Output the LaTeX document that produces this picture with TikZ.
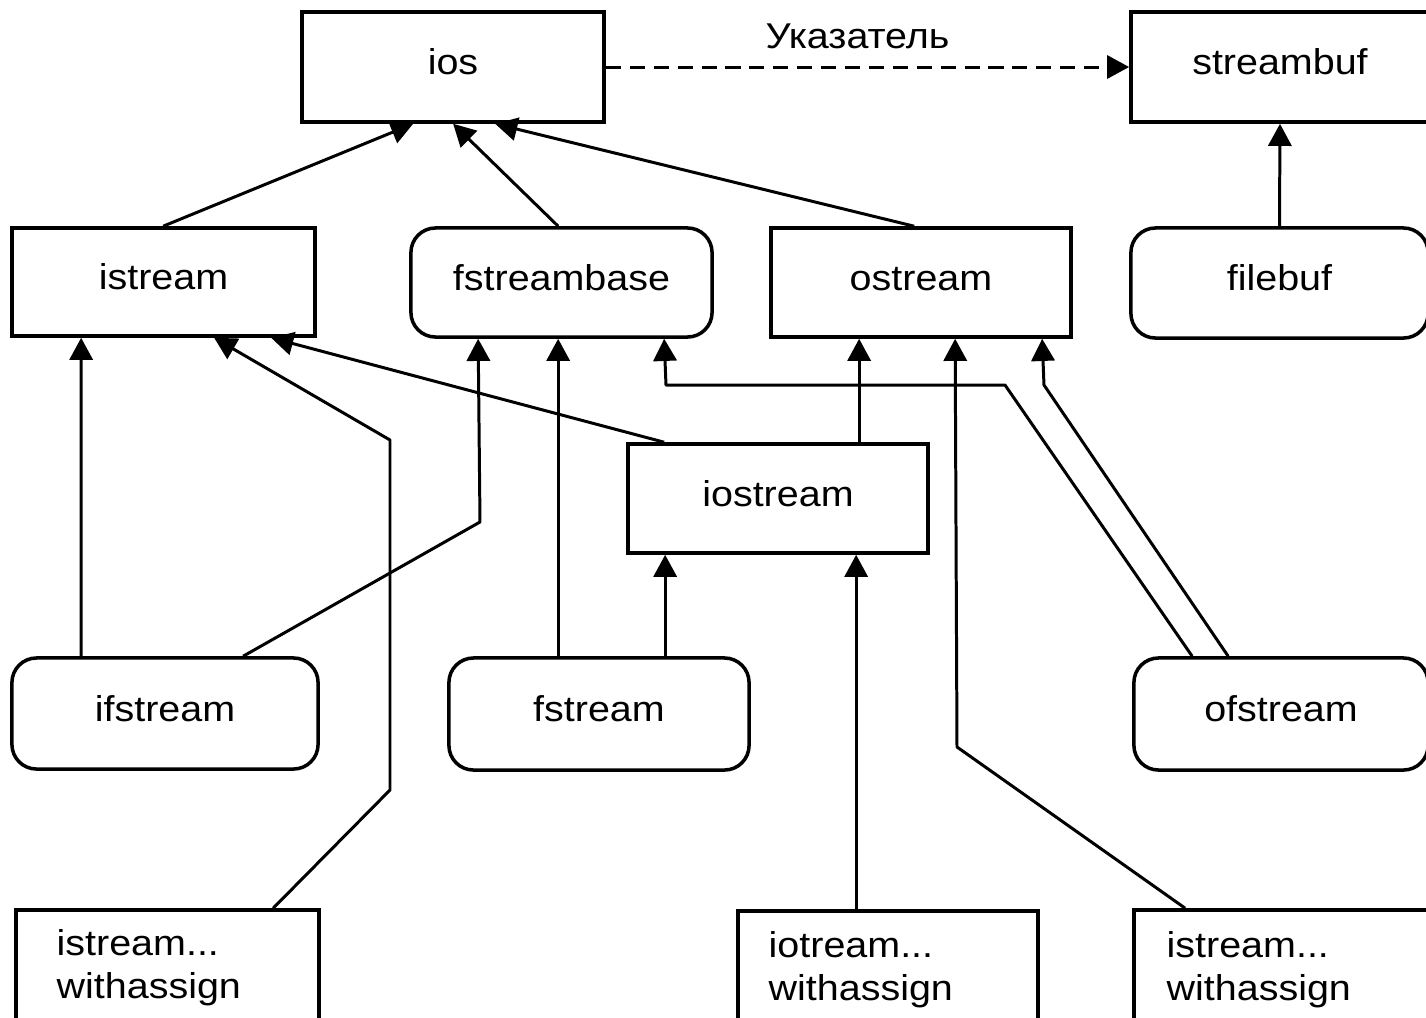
\documentclass[tikz,border=0pt]{standalone}
\usepackage{fontspec}
\setmainfont{Liberation Sans}
\newfontfamily\boxfont{Liberation Sans}[FakeStretch=1.1]
\usetikzlibrary{arrows.meta,calc}
\begin{document}
\begin{tikzpicture}[x=0.01cm,y=-0.01cm,
  box/.style={draw, line width=1pt, inner sep=0pt,
    font=\boxfont\fontsize{10.2}{12.5}\selectfont,
    text height=7.3pt, text depth=3pt},
  rbox/.style={box, rounded corners=7pt},
  watext/.style={inner sep=0pt, font=\boxfont\fontsize{10.2}{12.4}\selectfont},
  arr/.style={line width=0.85pt, line join=round, -{Triangle[length=6.3pt,width=6.6pt]}},
  ptr/.style={arr, dash pattern=on 4.3pt off 2.5pt},
  lbl/.style={inner sep=0pt, font=\boxfont\fontsize{10.2}{12.5}\selectfont}]
\fill[white] (0,0) rectangle (1426,1017);
\useasboundingbox (0,0) rectangle (1426,1017);
\clip (0,0) rectangle (1426,1017);

% boxes
\node[box,  minimum width=3.02cm, minimum height=1.10cm] (ios)         at (453,67)     {ios};
\node[box,  minimum width=2.98cm, minimum height=1.10cm] (streambuf)   at (1280,67)    {streambuf};
\node[box,  minimum width=3.03cm, minimum height=1.08cm] (istream)     at (163.5,282)  {istream};
\node[rbox, minimum width=3.01cm, minimum height=1.09cm] (fstreambase) at (561.5,282.5){fstreambase};
\node[box,  minimum width=3.00cm, minimum height=1.09cm] (ostream)     at (921,282.5)  {ostream};
\node[rbox, minimum width=2.97cm, minimum height=1.10cm] (filebuf)     at (1279.5,283) {filebuf};
\node[box,  minimum width=3.00cm, minimum height=1.09cm] (iostream)    at (778,498.5)  {iostream};
\node[rbox, minimum width=3.06cm, minimum height=1.11cm] (ifstream)    at (165,713.5)  {ifstream};
\node[rbox, minimum width=3.00cm, minimum height=1.12cm] (fstream)     at (599,714)    {fstream};
\node[rbox, minimum width=2.94cm, minimum height=1.12cm] (ofstream)    at (1281,714)   {ofstream};
\node[box,  minimum width=3.03cm, minimum height=1.40cm] (wa1)         at (167.5,980)  {};
\node[box,  minimum width=3.00cm, minimum height=1.40cm] (wa2)         at (888,981)    {};
\node[box,  minimum width=3.00cm, minimum height=1.40cm] (wa3)         at (1284,980)   {};

\node[watext, anchor=base west] (wa1t) at (56,955)
  {\begin{tabular}[t]{@{}l@{}}istream...\\withassign\end{tabular}};
\node[watext, anchor=base west] (wa2t) at (768,957)
  {\begin{tabular}[t]{@{}l@{}}iotream...\\withassign\end{tabular}};
\node[watext, anchor=base west] (wa3t) at (1166,957)
  {\begin{tabular}[t]{@{}l@{}}istream...\\withassign\end{tabular}};

% pointer
\draw[ptr] (ios.east) -- (streambuf.west)
  node[lbl, midway, above=4.8pt, xshift=-0.1cm] (ptrlabel) {Указатель};

% inheritance connectors
\draw[arr] (filebuf.north) -- (streambuf.south);
\draw[arr] ($(istream.north west)+(153,0)$) -- ($(ios.south west)+(113,0)$);
\draw[arr] ($(fstreambase.north west)+(149,0)$) -- ($(ios.south west)+(153,0)$);
\draw[arr] ($(ostream.north west)+(145,0)$) -- ($(ios.south west)+(195,0)$);

\draw[arr] ($(ifstream.north west)+(71,0)$) -- ($(istream.south west)+(71,0)$);
\draw[arr] ($(wa1.north west)+(259,0)$) -- (390,790) -- (390,440) -- ($(istream.south west)+(204,0)$);
\draw[arr] ($(iostream.north west)+(38,0)$) -- ($(istream.south west)+(261,0)$);

\draw[arr] ($(ifstream.north west)+(233,0)$) -- (480,522) -- ($(fstreambase.south west)+(69,0)$);
\draw[arr] ($(fstream.north west)+(111,0)$) -- ($(fstreambase.south west)+(149,0)$);
\draw[arr] ($(ofstream.north west)+(60,0)$) -- (1005,385) -- (666,385) -- ($(fstreambase.south west)+(255,0)$);

\draw[arr] ($(iostream.north west)+(233,0)$) -- ($(ostream.south west)+(90,0)$);
\draw[arr] ($(wa3.north west)+(53,0)$) -- (957,747) -- ($(ostream.south west)+(186,0)$);
\draw[arr] ($(ofstream.north west)+(96,0)$) -- (1044,385) -- ($(ostream.south west)+(273,0)$);

\draw[arr] ($(fstream.north west)+(218,0)$) -- ($(iostream.south west)+(39,0)$);
\draw[arr] ($(wa2.north west)+(120,0)$) -- ($(iostream.south west)+(230,0)$);
\end{tikzpicture}
\end{document}
